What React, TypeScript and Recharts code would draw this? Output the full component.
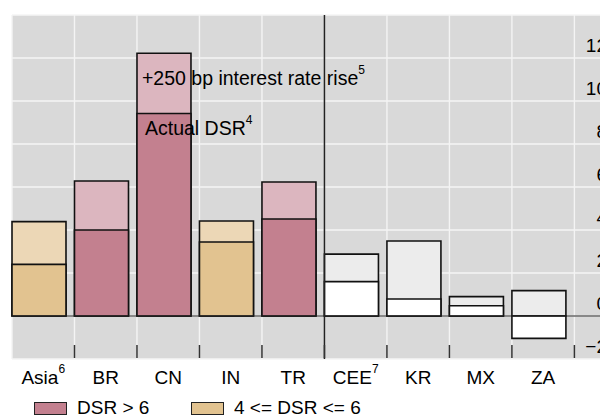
import React from 'react';
import {
  BarChart,
  Bar,
  XAxis,
  YAxis,
  CartesianGrid,
  ReferenceLine,
  ReferenceDot,
  Cell,
} from 'recharts';

// ---- data ----
const categories = ['Asia', 'BR', 'CN', 'IN', 'TR', 'CEE', 'KR', 'MX', 'ZA'];
const categoryNotes = ['6', '', '', '', '', '7', '', '', ''];
const actualDsr = [2.4, 4.0, 9.42, 3.44, 4.51, 1.6, 0.79, 0.48, -1.04];
const rateRiseDsr = [4.39, 6.28, 12.22, 4.42, 6.23, 2.88, 3.49, 0.9, 1.18];
const dsrClass = ['mid', 'high', 'high', 'mid', 'high', 'low', 'low', 'low', 'low'];
const yTicks = [-2, 0, 2, 4, 6, 8, 10, 12];
const legendLabels = ['DSR > 6', '4 <= DSR <= 6'];
const legendClasses = ['high', 'mid'];
const annotations = [
  { text: '+250 bp interest rate rise', note: '5', at: 2, value: 10.74, dx: 5 },
  { text: 'Actual DSR', note: '4', at: 2, value: 8.42, dx: 8 },
];

const data = categories.map((name, i) => ({
  name,
  idx: i,
  actual: actualDsr[i],
  rise: rateRiseDsr[i],
  cls: dsrClass[i],
}));

// ---- styles ----
const FONT = '"Liberation Sans", Arial, Helvetica, sans-serif';
const FS = 19;
const palette: Record<string, { actual: string; rise: string }> = {
  high: { actual: '#c3808f', rise: '#dcb6bf' },
  mid: { actual: '#e2c390', rise: '#ecd7b6' },
  low: { actual: '#ffffff', rise: '#ececec' },
};
const STROKE = '#111';
const labTicks = [0.5, 1, 1.5, 2, 2.5, 3, 3.5, 4, 4.5, 5, 5.5, 6, 6.5, 7, 7.5, 8, 8.5, 9];
const gridTicks = [0, 1, 2, 3, 4, 5, 6, 7, 8, 9];

const XTick = (props: any) => {
  const { x, y, payload } = props;
  const v = payload.value as number;
  if (Number.isInteger(v)) {
    return <line x1={x} x2={x} y1={y - 1} y2={y - 14} stroke="#333" strokeWidth={1.5} />;
  }
  const i = Math.floor(v);
  return (
    <text x={x} y={y + 25} textAnchor="middle" fontSize={FS} fontFamily={FONT} fill="#000">
      <tspan>{categories[i]}</tspan>
      {categoryNotes[i] ? (
        <tspan fontSize={12} dy={-11}>
          {categoryNotes[i]}
        </tspan>
      ) : null}
    </text>
  );
};

const YTick = (props: any) => {
  const { x, y, payload } = props;
  const v = payload.value as number;
  const s = v < 0 ? '\u2212' + Math.abs(v) : String(v);
  return (
    <text x={x - 8} y={y - 6} textAnchor="end" fontSize={FS} fontFamily={FONT} fill="#000">
      {s}
    </text>
  );
};

const makeAnnotation = (a: (typeof annotations)[number]) => (props: any) => {
  const vb = props.viewBox || {};
  const cx = (vb.x ?? 0) + (vb.width ?? 0) / 2;
  const cy = (vb.y ?? 0) + (vb.height ?? 0) / 2;
  return (
    <text x={cx + a.dx} y={cy} fontSize={FS + 0.5} fontFamily={FONT} fill="#000">
      <tspan>{a.text}</tspan>
      <tspan fontSize={12} dy={-11}>
        {a.note}
      </tspan>
    </text>
  );
};

export default function App() {
  return (
    <div
      style={{
        position: 'absolute',
        left: 0,
        top: 0,
        width: 600,
        height: 417,
        overflow: 'hidden',
        background: '#fff',
      }}
    >
      <BarChart
        width={620}
        height={417}
        data={data}
        margin={{ top: 15, left: 12, right: 5, bottom: 0 }}
        barGap={-54}
      >
        <CartesianGrid
          xAxisId="grid"
          fill="#d9d9d9"
          fillOpacity={1}
          stroke="#f4f4f4"
          strokeWidth={1.4}
        />
        <XAxis
          xAxisId="lab"
          dataKey="idx"
          type="number"
          scale="linear"
          domain={[0, 9]}
          allowDataOverflow
          ticks={labTicks}
          interval={0}
          height={58}
          axisLine={false}
          tickLine={false}
          tickSize={0}
          tickMargin={0}
          tick={<XTick />}
          padding={{ left: 0, right: 40.6 }}
        />
        <XAxis
          xAxisId="cat"
          dataKey="name"
          type="category"
          hide
          height={0}
          padding={{ left: -4, right: 44.6 }}
        />
        <XAxis
          xAxisId="grid"
          dataKey="idx"
          type="number"
          scale="linear"
          domain={[0, 9]}
          allowDataOverflow
          ticks={gridTicks}
          hide
          height={0}
          padding={{ left: 0, right: 40.6 }}
        />
        <YAxis
          orientation="right"
          mirror
          domain={[-2, 14]}
          allowDataOverflow
          ticks={yTicks}
          interval={0}
          axisLine={false}
          tickLine={false}
          tickSize={0}
          tickMargin={0}
          tick={<YTick />}
        />
        <Bar
          xAxisId="cat"
          dataKey="rise"
          name="+250 bp interest rate rise"
          barSize={54}
          isAnimationActive={false}
          stroke={STROKE}
          strokeWidth={1.6}
        >
          {data.map((d, i) => (
            <Cell key={i} fill={palette[d.cls].rise} />
          ))}
        </Bar>
        <Bar
          xAxisId="cat"
          dataKey="actual"
          name="Actual DSR"
          barSize={54}
          isAnimationActive={false}
          stroke={STROKE}
          strokeWidth={1.6}
        >
          {data.map((d, i) => (
            <Cell key={i} fill={palette[d.cls].actual} />
          ))}
        </Bar>
        <ReferenceLine xAxisId="lab" y={0} stroke="#222" strokeWidth={1.2} />
        <ReferenceLine xAxisId="lab" x={5} stroke="#222" strokeWidth={1.5} />
        {annotations.map((a, i) => (
          <ReferenceDot
            key={i}
            xAxisId="lab"
            x={a.at}
            y={a.value}
            r={1}
            fill="none"
            stroke="none"
            label={makeAnnotation(a)}
          />
        ))}
      </BarChart>
      {legendLabels.map((label, i) => (
        <div
          key={i}
          style={{
            position: 'absolute',
            left: i === 0 ? 34 : 191,
            top: 397,
            display: 'flex',
            alignItems: 'flex-start',
            fontFamily: FONT,
            fontSize: FS,
            lineHeight: '22px',
            color: '#000',
            whiteSpace: 'nowrap',
          }}
        >
          <span
            style={{
              display: 'inline-block',
              width: 31,
              height: 11,
              marginTop: 5,
              background: palette[legendClasses[i]].actual,
              border: '1.5px solid #222',
              marginRight: 10,
            }}
          />
          <span>{label}</span>
        </div>
      ))}
    </div>
  );
}
